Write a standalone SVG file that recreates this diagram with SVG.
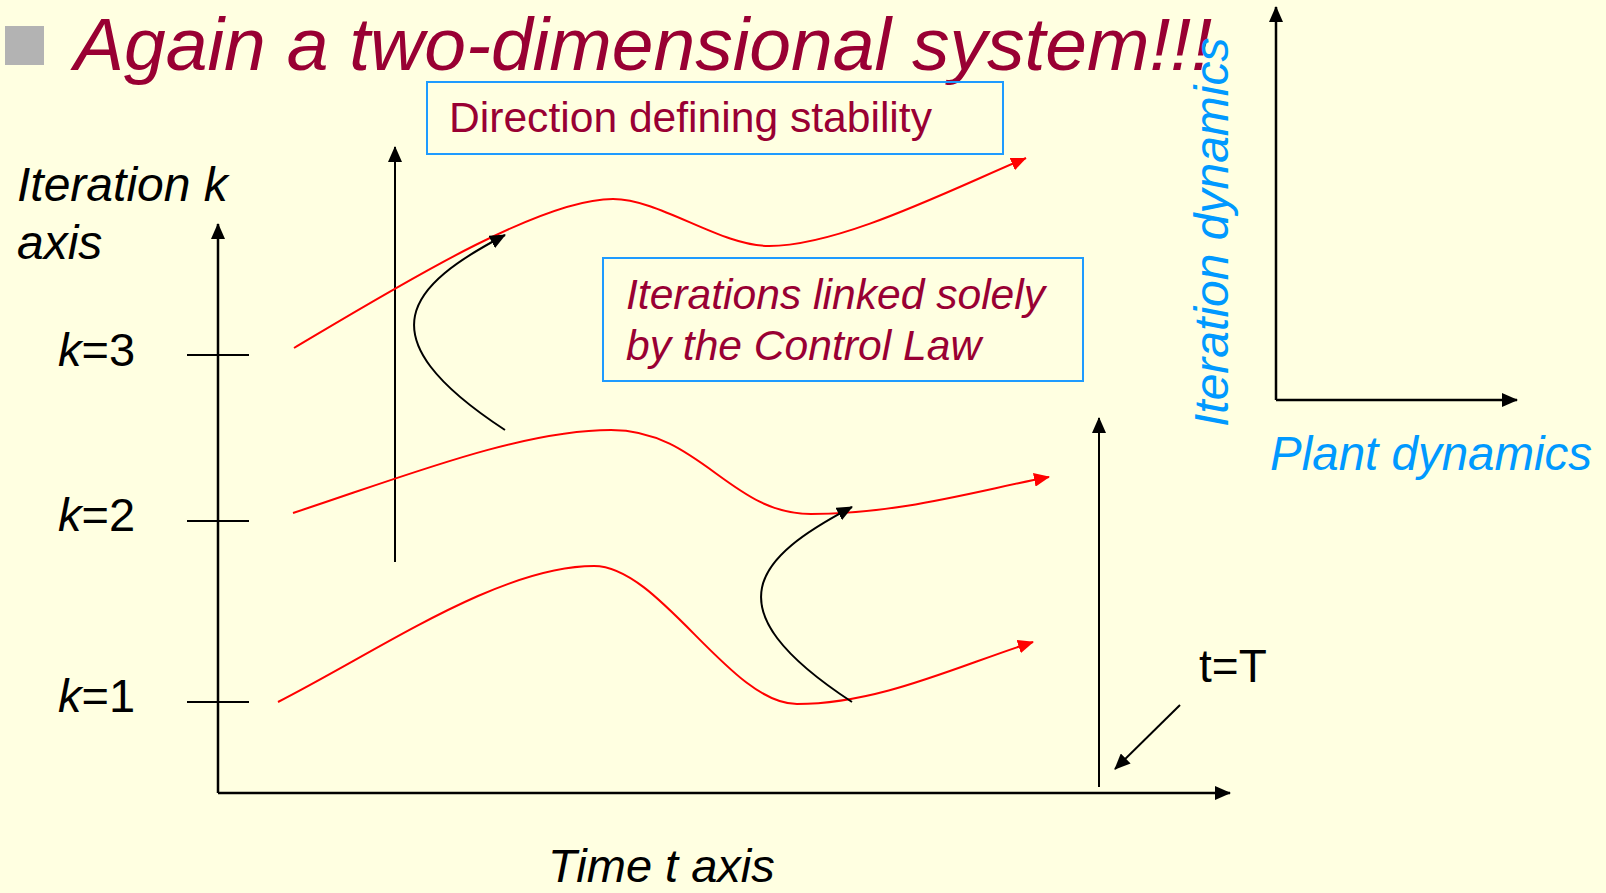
<svg xmlns="http://www.w3.org/2000/svg" width="1606" height="893" viewBox="0 0 1606 893">
<defs>
<style>
.t{font-family:"Liberation Sans",Arial,sans-serif}
.it{font-style:italic}
.dr{fill:#990033}
.bl{fill:#0099FF}
.blk{fill:#000}
.ax{stroke:#000;stroke-width:2.5;fill:none}
.ln{stroke:#000;stroke-width:2;fill:none}
.rd{stroke:#FF0000;stroke-width:2;fill:none}
.box{fill:none;stroke:#1E9BFF;stroke-width:2}
</style>
<marker id="ak" markerUnits="userSpaceOnUse" markerWidth="16" markerHeight="14" refX="15" refY="7" orient="auto"><path d="M0,0 L16,7 L0,14 z" fill="#000"/></marker>
<marker id="ar" markerUnits="userSpaceOnUse" markerWidth="16" markerHeight="14" refX="15" refY="7" orient="auto"><path d="M0,0 L16,7 L0,14 z" fill="#FF0000"/></marker>
</defs>
<rect x="0" y="0" width="1606" height="893" fill="#FFFFE1"/>
<rect id="bullet" x="5" y="26" width="39" height="39" fill="#B3B3B3"/>
<text id="title" class="t it dr" x="74" y="70" font-size="75">Again a two-dimensional system!!!</text>

<g id="connectors">
<path class="ax" d="M218,793 L218,224" marker-end="url(#ak)"/>
<path class="ax" d="M218,793 L1230,793" marker-end="url(#ak)"/>
<path class="ln" d="M187,355 H249 M187,521 H249 M187,702 H249"/>
<path class="ln" d="M395,562 L395,147" marker-end="url(#ak)"/>
<path class="ln" d="M1099,787 L1099,418" marker-end="url(#ak)"/>
<path class="ln" d="M1180,705 L1115,769" marker-end="url(#ak)"/>
<path class="ax" d="M1276,400 L1276,7" marker-end="url(#ak)"/>
<path class="ax" d="M1276,400 L1517,400" marker-end="url(#ak)"/>
<path class="rd" d="M294,348 C400,285 540,199 613,199 C660,199 720,246 769,246 C840,246 950,190 1026,158" marker-end="url(#ar)"/>
<path class="rd" d="M293,513 C400,478 520,430 611,430 C700,430 730,514 811,514 C900,514 980,490 1049,477" marker-end="url(#ar)"/>
<path class="rd" d="M278,702 C380,650 500,566 594,566 C660,566 730,704 797,704 C880,704 960,665 1033,642" marker-end="url(#ar)"/>
<path class="ln" d="M505,430 C360,335 410,285 505,235" marker-end="url(#ak)"/>
<path class="ln" d="M852,702 C707,607 757,557 852,507" marker-end="url(#ak)"/>
</g>

<g id="box-direction">
<rect class="box" x="427" y="82" width="576" height="72"/>
<text class="t dr" x="449" y="132" font-size="42.6">Direction defining stability</text>
</g>
<g id="box-iterations">
<rect class="box" x="603" y="258" width="480" height="123"/>
<text class="t it dr" x="626" y="309" font-size="42.6">Iterations linked solely</text>
<text class="t it dr" x="626" y="360" font-size="42.6">by the Control Law</text>
</g>

<g id="label-iteration-axis">
<text class="t it blk" x="17" y="201" font-size="48">Iteration k</text>
<text class="t it blk" x="17" y="259" font-size="48">axis</text>
</g>
<g id="label-k3"><text class="t blk" x="58" y="366" font-size="47"><tspan font-style="italic">k</tspan>=3</text></g>
<g id="label-k2"><text class="t blk" x="58" y="531" font-size="47"><tspan font-style="italic">k</tspan>=2</text></g>
<g id="label-k1"><text class="t blk" x="58" y="712" font-size="47"><tspan font-style="italic">k</tspan>=1</text></g>
<g id="label-tT"><text class="t blk" x="1199" y="682" font-size="46">t=T</text></g>
<g id="label-time"><text class="t it blk" x="548" y="882" font-size="47">Time t axis</text></g>
<g id="label-iter-dyn"><text class="t it bl" font-size="48" transform="translate(1228,427) rotate(-90)">Iteration dynamics</text></g>
<g id="label-plant-dyn"><text class="t it bl" x="1270" y="470" font-size="47.5">Plant dynamics</text></g>
</svg>
